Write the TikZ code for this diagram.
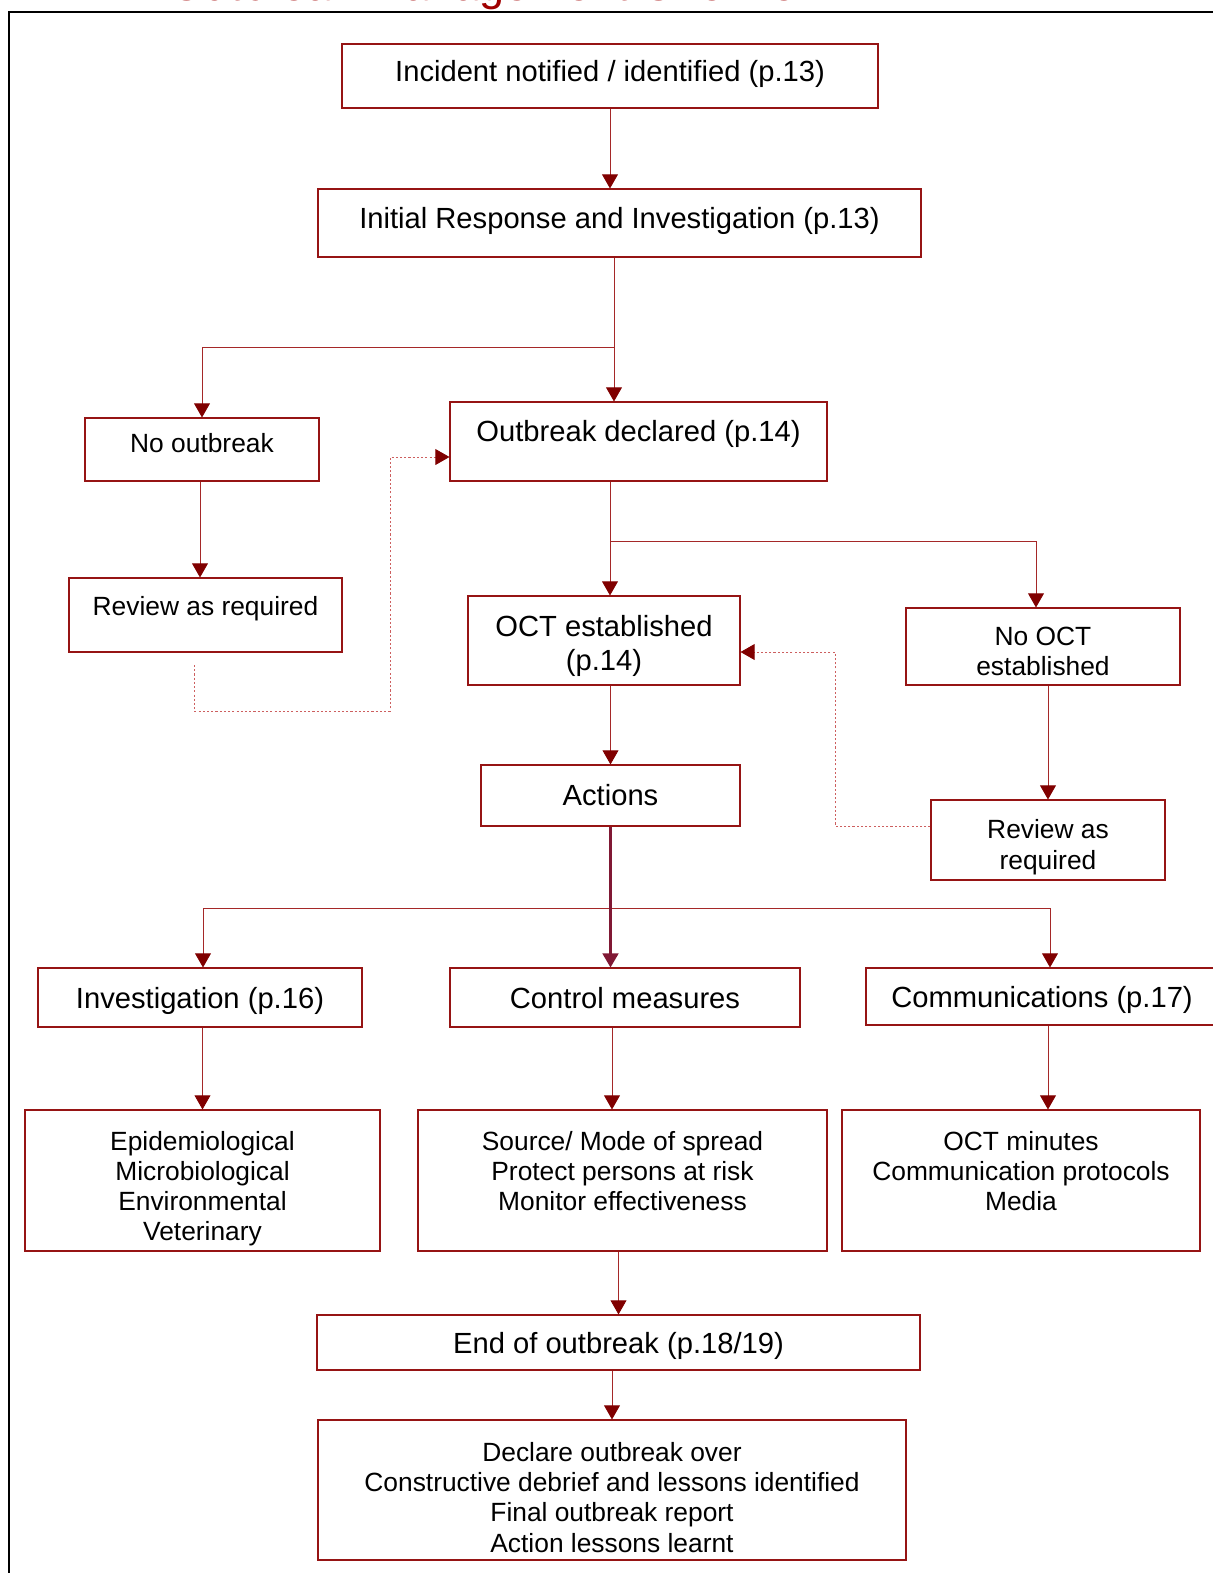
\documentclass[tikz,border=0pt]{standalone}
\usepackage{fontspec}
\setmainfont{Liberation Sans}
\usepackage{tikz}
\usetikzlibrary{positioning, arrows.meta, calc}
\definecolor{boxred}{RGB}{150,20,20}
\definecolor{linered}{RGB}{165,40,40}
\definecolor{tipred}{RGB}{128,0,0}
\definecolor{dotred}{RGB}{205,95,95}
\definecolor{plumred}{RGB}{128,24,52}
\definecolor{titlered}{RGB}{160,0,0}

\begin{document}
\begin{tikzpicture}[
  x=0.02cm, y=-0.02cm,
  box/.style={rectangle, draw=boxred, line width=0.6pt, inner sep=0pt, align=center},
  span/.style n args={4}{minimum width={(#3-#1)*0.02cm}, minimum height={(#4-#2)*0.02cm},
    at={({(#1+#3)/2},{(#2+#4)/2})}},
  big/.style={font=\fontsize{16.6}{19.3}\selectfont},
  small/.style={font=\fontsize{15}{17.2}\selectfont},
  lift/.style={text depth=#1},
  drop/.style={text height=#1},
  arr/.style={-{Triangle[length=8pt, width=9pt, color=tipred]}, draw=linered, line width=0.5pt},
  dotarr/.style={arr, draw=dotred, dash pattern=on 1.2pt off 1.2pt},
  thickarr/.style={-{Triangle[length=8pt, width=9pt, color=plumred]}, draw=plumred, line width=1.3pt}
]
\useasboundingbox (0,0) rectangle (1213,1573);
\draw[black, line width=0.6pt] (9,1620) |- (1260,12);
\node[anchor=base west, text=titlered, font=\fontsize{25.6}{30}\selectfont] (title) at (163,0.4) {Outbreak Management Overview};

% top of the chart
\node[box, big, lift=5.6pt, span={342}{44}{878}{108}] (inc) {Incident notified / identified (p.13)};
\node[box, big, lift=5.5pt, span={318}{189}{921}{257}] (init) {Initial Response and Investigation (p.13)};
\node[box, big, lift=12.6pt, span={450}{402}{827}{481}] (decl) {Outbreak declared (p.14)};
\node[box, small, lift=7.6pt, span={85}{418}{319}{481}] (noout) {No outbreak};
\node[box, small, lift=9.9pt, span={69}{578}{342}{652}] (rev1) {Review as required};

% OCT branch
\node[box, big, drop=37.3pt, span={468}{596}{740}{685}] (oct) {OCT established\\(p.14)};
\node[box, small, drop=32.9pt, span={906}{608}{1180}{685}] (nooct) {No OCT\\established};
\node[box, small, drop=36.2pt, span={931}{800}{1165}{880}] (rev2) {Review as\\required};
\node[box, big, span={481}{765}{740}{826}] (actions) {Actions};

% actions
\node[box, big, lift=-1pt, span={38}{968}{362}{1027}] (inv) {Investigation (p.16)};
\node[box, big, lift=-2.3pt, span={450}{968}{800}{1027}] (ctrl) {Control measures};
\node[box, big, lift=-2.2pt, span={866}{968}{1218}{1025}] (comm) {Communications (p.17)};
\node[box, small, drop=71.9pt, span={25}{1110}{380}{1251}] (epi) {Epidemiological\\Microbiological\\Environmental\\Veterinary};
\node[box, small, lift=10.6pt, span={418}{1110}{827}{1251}] (src) {Source/ Mode of spread\\Protect persons at risk\\Monitor effectiveness};
\node[box, small, lift=10.6pt, span={842}{1110}{1200}{1251}] (mins) {OCT minutes\\Communication protocols\\Media};

% end
\node[box, big, lift=-3.3pt, span={317}{1315}{920}{1370}] (endob) {End of outbreak (p.18/19)};
\node[box, small, drop=70.8pt, span={318}{1420}{906}{1560}] (decl2) {Declare outbreak over\\Constructive debrief and lessons identified\\Final outbreak report\\Action lessons learnt};

\coordinate (split1) at (614,347);
\coordinate (split2) at (610,541);
\coordinate (split3) at (610,908);
\coordinate (r1out) at (194,665);

\draw[arr] (inc.south) -- (inc.south |- init.north);
\draw[arr] (init.south -| split1) -- (split1 |- decl.north);
\draw[linered, line width=0.5pt] (split1) -- (610,347);
\draw[arr] (610,347) -| (noout.north);
\draw[arr] ([xshift=-0.04cm]noout.south) -- ([xshift=-0.04cm]noout.south |- rev1.north);
\draw[dotarr] (r1out) |- (390,711) -- (390,457) -- (decl.west |- 390,457);
\draw[arr] (decl.south -| split2) -- (split2 |- oct.north);
\draw[arr] (split2) -| ([xshift=-0.14cm]nooct.north);
\draw[arr] (rev2.north |- nooct.south) -- (rev2.north);
\draw[dotarr] ([yshift=0.28cm]rev2.west) -| (835,652) -- (oct.east |- 835,652);
\draw[arr] (actions.north |- oct.south) -- (actions.north);
\draw[linered, line width=0.5pt] ([xshift=0.06cm]inv.north |- split3) -- ([xshift=0.16cm]comm.north |- split3);
\draw[arr] ([xshift=0.06cm]inv.north |- split3) -- ([xshift=0.06cm]inv.north);
\draw[arr] ([xshift=0.16cm]comm.north |- split3) -- ([xshift=0.16cm]comm.north);
\draw[thickarr] (actions.south) -- (actions.south |- ctrl.north);
\draw[arr] (epi.north |- inv.south) -- (epi.north);
\draw[arr] ([xshift=-0.26cm]ctrl.south) -- ([xshift=-0.26cm]ctrl.south |- src.north);
\draw[arr] ([xshift=0.12cm]comm.south) -- ([xshift=0.12cm]comm.south |- mins.north);
\draw[arr] (endob.north |- src.south) -- (endob.north);
\draw[arr] (decl2.north |- endob.south) -- (decl2.north);
\end{tikzpicture}
\end{document}
